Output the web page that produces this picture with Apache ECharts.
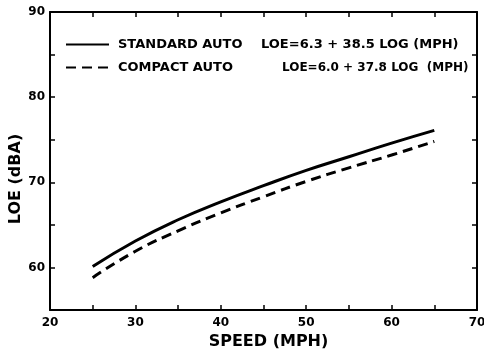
<!DOCTYPE html>
<html>
<head>
<meta charset="utf-8">
<script src="https://cdn.jsdelivr.net/npm/echarts@6/dist/echarts.min.js"></script>
<style>
  html, body { margin: 0; padding: 0; background: #fff; }
  #chart { width: 484px; height: 352px; }
</style>
</head>
<body>
<div id="chart"></div>
<script>
// Speed (mph) at which the noise level is given
const speeds = [25, 30, 35, 40, 45, 50, 55, 60, 65];
// LOE (dBA) for each vehicle class
const standardAuto = [60.1, 63.1, 65.6, 67.7, 69.6, 71.4, 73.0, 74.6, 76.1];
const compactAuto = [58.8, 61.9, 64.3, 66.4, 68.3, 70.1, 71.7, 73.2, 74.8];
const seriesNames = ['STANDARD AUTO', 'COMPACT AUTO'];
const equations = ['LOE=6.3 + 38.5 LOG (MPH)', 'LOE=6.0 + 37.8 LOG  (MPH)'];
const xTickLabels = [20, 30, 40, 50, 60, 70];
const yTickLabels = [60, 70, 80, 90];

const FONT = 'DejaVu Sans, Verdana, sans-serif';
const toPairs = (xs, ys) => xs.map((x, i) => [x, ys[i]]);

const axisLine = { lineStyle: { color: '#000', width: 2 } };
const axisTick = { inside: true, length: 5, lineStyle: { color: '#000', width: 1.5 } };
const tickFont = { fontFamily: FONT, fontWeight: 'bold', fontSize: 12, color: '#000' };
const legendFont = { fontFamily: FONT, fontWeight: 'bold', fontSize: 13, color: '#000' };

const chart = echarts.init(document.getElementById('chart'), null, { renderer: 'canvas' });
chart.setOption({
  animation: false,
  backgroundColor: '#fff',
  grid: { left: 50, right: 7, top: 12, bottom: 42, containLabel: false, outerBoundsMode: 'none' },
  legend: {
    orient: 'vertical',
    left: 65,
    top: 38,
    padding: 0,
    itemWidth: 43,
    itemHeight: 12,
    itemGap: 10,
    itemStyle: { opacity: 0 },
    data: seriesNames,
    formatter: name => {
      const i = seriesNames.indexOf(name);
      return '{n' + i + '|' + name + '}{e' + i + '|' + equations[i] + '}';
    },
    textStyle: Object.assign({}, legendFont, {
      padding: [0, 0, 0, 4],
      rich: {
        n0: Object.assign({ width: 143 }, legendFont),
        n1: Object.assign({ width: 164 }, legendFont),
        e0: legendFont,
        e1: Object.assign({}, legendFont, { fontSize: 12 })
      }
    })
  },
  xAxis: [
    {
      type: 'value', min: 20, max: 70, interval: 5,
      name: 'SPEED (MPH)', nameLocation: 'middle', nameGap: 22,
      nameTextStyle: { fontFamily: FONT, fontSize: 16, fontWeight: 'bold', color: '#000', padding: [0, 0, 0, 10] },
      axisLine, axisTick, splitLine: { show: false },
      axisLabel: Object.assign({ margin: 7, formatter: v => xTickLabels.includes(v) ? String(v) : '' }, tickFont)
    },
    {
      type: 'value', position: 'top', min: 20, max: 70, interval: 5,
      axisLine, axisTick, splitLine: { show: false }, axisLabel: { show: false }
    }
  ],
  yAxis: [
    {
      type: 'value', min: 55, max: 90, interval: 5,
      name: 'LOE (dBA)', nameLocation: 'middle', nameGap: 26, nameMoveOverlap: false,
      nameTextStyle: { fontFamily: FONT, fontSize: 16, fontWeight: 'bold', color: '#000', padding: [0, 36, 0, 0] },
      axisLine, axisTick, splitLine: { show: false },
      axisLabel: Object.assign({ margin: 5, formatter: v => yTickLabels.includes(v) ? String(v) : '' }, tickFont)
    },
    {
      type: 'value', position: 'right', min: 55, max: 90, interval: 5,
      axisLine, axisTick, splitLine: { show: false }, axisLabel: { show: false }
    }
  ],
  series: [
    {
      name: seriesNames[0], type: 'line', smooth: true, symbol: 'none',
      data: toPairs(speeds, standardAuto),
      lineStyle: { color: '#000', width: 3 }, itemStyle: { color: '#000' }
    },
    {
      name: seriesNames[1], type: 'line', smooth: true, symbol: 'none',
      data: toPairs(speeds, compactAuto),
      lineStyle: { color: '#000', width: 3, type: [10, 6] }, itemStyle: { color: '#000' }
    }
  ]
});
</script>
</body>
</html>
